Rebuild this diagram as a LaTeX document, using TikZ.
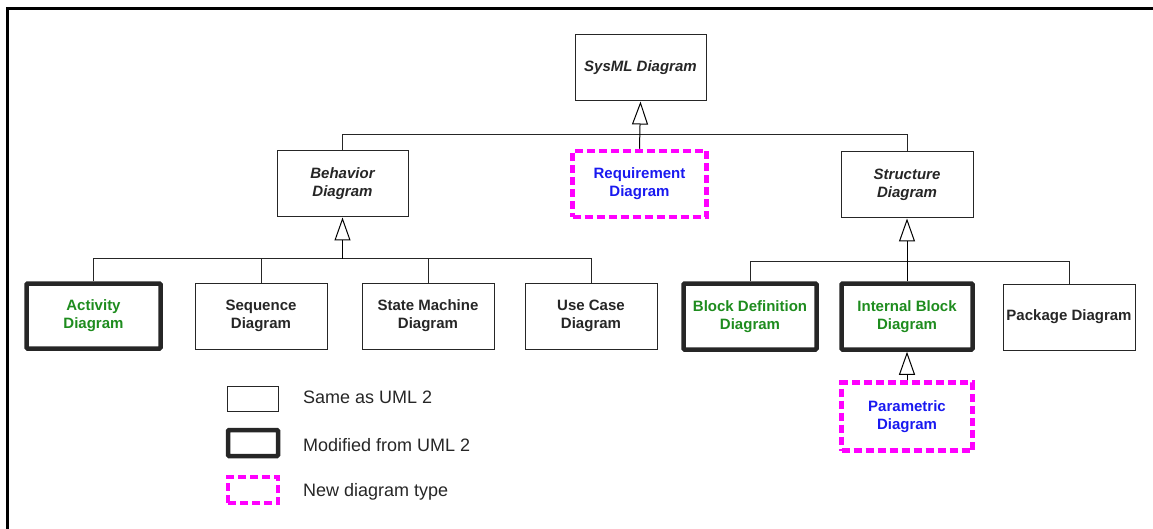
\documentclass[tikz,border=0pt]{standalone}
\usepackage{fontspec}
\setmainfont{Liberation Sans}
\usetikzlibrary{arrows.meta}
\definecolor{umlgreen}{RGB}{30,140,30}
\definecolor{umlblue}{RGB}{25,25,240}
\definecolor{umlmag}{RGB}{255,0,255}
\begin{document}
\begin{tikzpicture}[x=1pt,y=-1pt,
  box/.style={draw=black!85,line width=1pt,minimum width=#1,minimum height=66pt,inner sep=0pt,align=center,font=\fontsize{15}{18}\selectfont\bfseries,text=black!85},
  box/.default=132pt,
  thickbox/.style={box=#1,line width=4.5pt,rounded corners=1pt,text=umlgreen},
  thickbox/.default=132pt,
  newbox/.style={box=#1,draw=umlmag,line width=4.5pt,dash pattern=on 8pt off 4pt,text=umlblue},
  newbox/.default=132pt,
  itbox/.style={box=#1,font=\fontsize{15}{18}\selectfont\bfseries\itshape},
  itbox/.default=132pt,
  gen/.style={draw=black,line width=1pt,-{Triangle[open,length=23pt,width=16pt,line width=1pt,fill=white]}},
  tree/.style={draw=black!85,line width=1pt},
  legtext/.style={anchor=west,inner sep=0pt,font=\fontsize{18}{20}\selectfont,text=black!85}
]
\useasboundingbox (0,0) rectangle (1153,529);
\draw[line width=3pt] (7,529) -- (7,9) -- (1153,9);

% top
\node[itbox=131pt] (sysml) at (640.5,68) {SysML Diagram};
\node[itbox=131pt] (beh) at (342.5,184) {Behavior\\Diagram};
\node[newbox=134pt, minimum height=66pt] (req) at (639.5,184) {Requirement\\Diagram};
\node[itbox=132pt] (str) at (907,185) {Structure\\Diagram};

% behavior children
\node[thickbox=134pt, minimum height=65pt] (act) at (93.5,316) {Activity\\Diagram};
\node[box=132pt] (seq) at (261,316) {Sequence\\Diagram};
\node[box=132pt] (stm) at (428,316) {State Machine\\Diagram};
\node[box=132pt] (uc) at (591,316) {Use Case\\Diagram};

% structure children
\node[thickbox=133pt, minimum height=66pt] (bdd) at (750,316.5) {Block Definition\\Diagram};
\node[thickbox=131pt, minimum height=66pt] (ibd) at (907,316.5) {Internal Block\\Diagram};
\node[box=132pt] (pkg) at (1069,317) {Package Diagram};
\node[newbox=131pt, minimum height=68pt] (par) at (907,416.5) {Parametric\\Diagram};

% level 1 tree
\coordinate (j1) at (640.5,135);
\draw[tree] (beh.north) -- (beh.north |- j1) -- (str.north |- j1) -- (str.north);
\draw[gen] (req.north) -- (sysml.south);

% behavior tree
\coordinate (j2) at (342.5,259);
\draw[tree] (act.north) -- (act.north |- j2) -- (uc.north |- j2) -- (uc.north);
\draw[tree] (seq.north) -- (seq.north |- j2);
\draw[tree] (stm.north) -- (stm.north |- j2);
\draw[gen] (beh.south |- j2) -- (beh.south);

% structure tree
\coordinate (j3) at (907,262);
\draw[tree] (bdd.north) -- (bdd.north |- j3) -- (pkg.north |- j3) -- (pkg.north);
\draw[gen] (ibd.north) -- (str.south);
\draw[gen] (par.north) -- (ibd.south);

% legend
\node[box=51pt, minimum height=25pt] (l1) at (252.5,398.5) {};
\node[thickbox=50pt, minimum height=26pt] (l2) at (253,443) {};
\node[newbox=50pt, minimum height=26pt] (l3) at (253,490) {};
\node[legtext] (t1) at (303,397) {Same as UML 2};
\node[legtext] (t2) at (303,445) {Modified from UML 2};
\node[legtext] (t3) at (303,492) {New diagram type};
\end{tikzpicture}
\end{document}
